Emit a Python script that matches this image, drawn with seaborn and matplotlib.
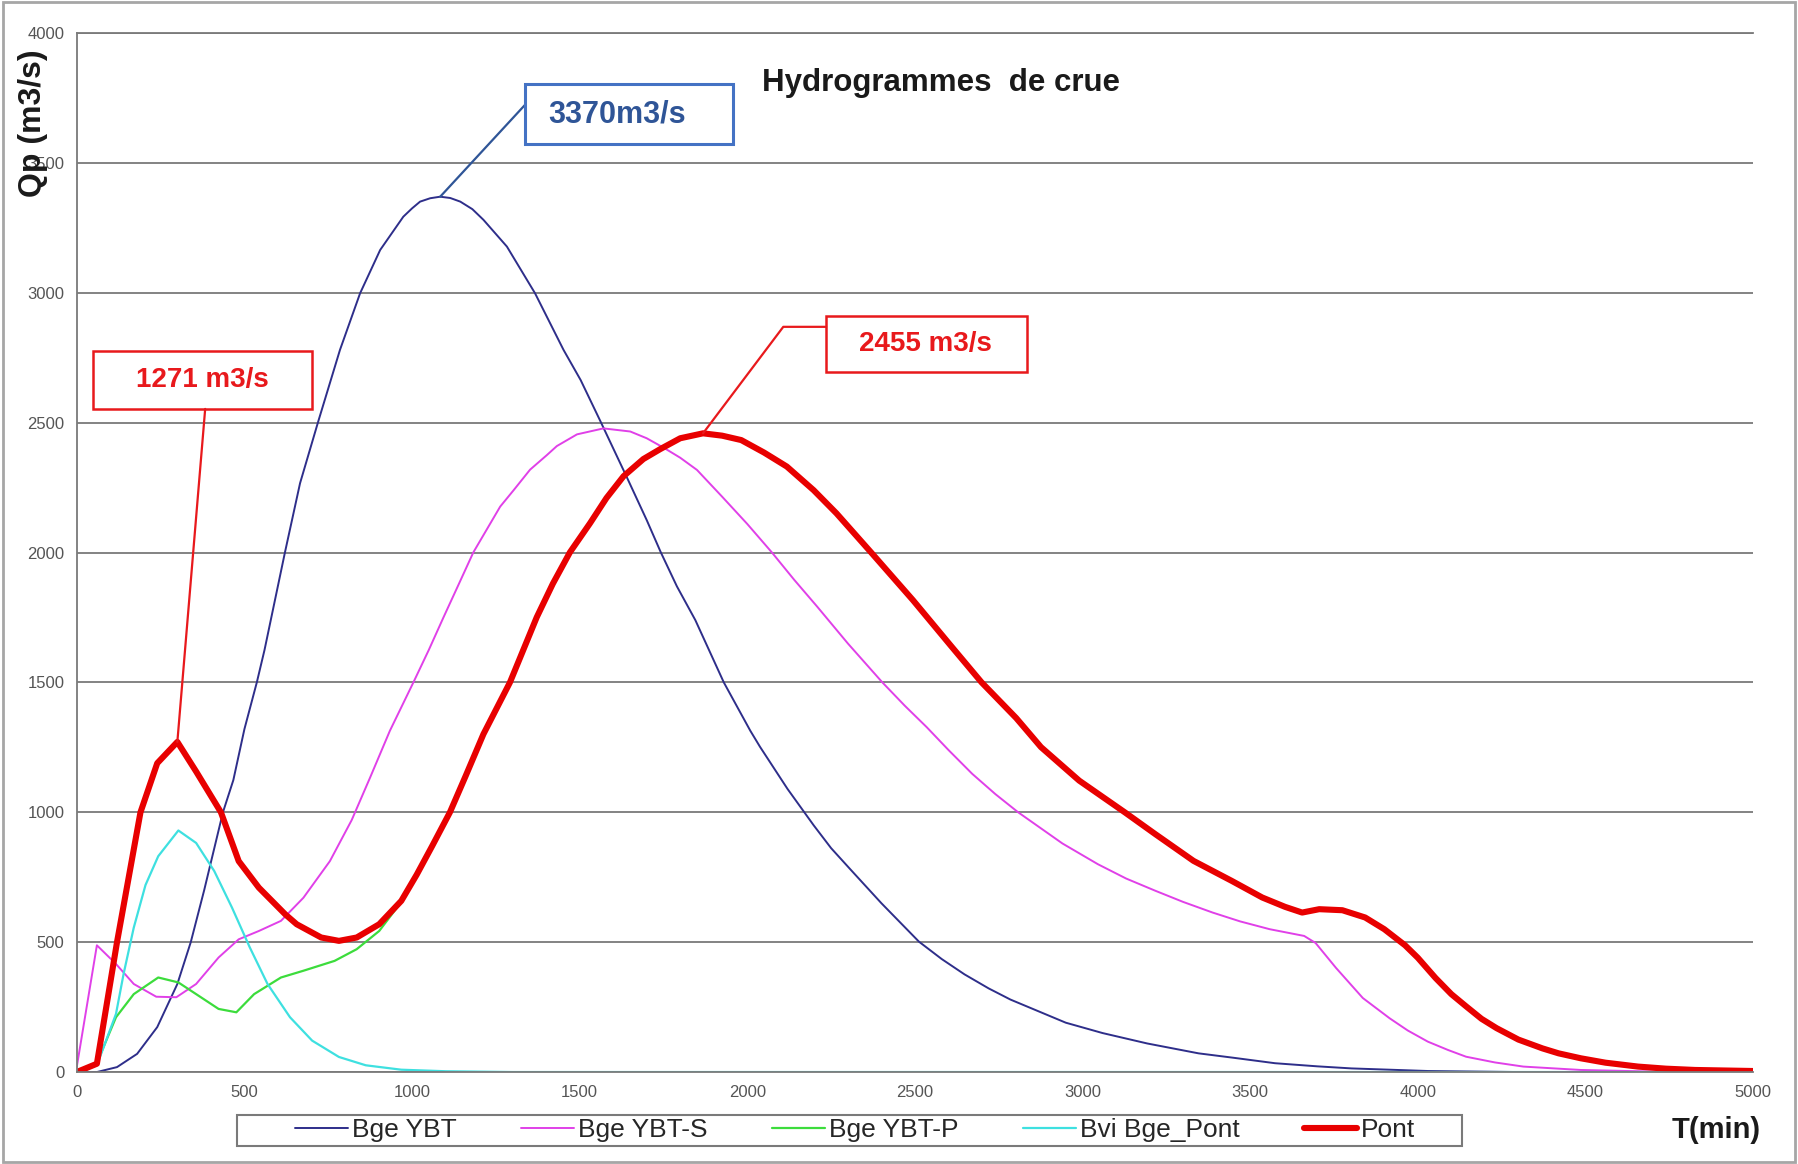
import numpy as np
import pandas as pd
import matplotlib
matplotlib.use('Agg')
import matplotlib.pyplot as plt
from matplotlib.patches import Rectangle
from matplotlib.lines import Line2D
import seaborn as sns


# hydrogrammes (T en min, Q en m3/s)
t_ybt = [0, 60, 120, 180, 240, 300, 340, 380, 436, 467, 500, 537, 560, 621, 666, 721, 785, 845, 905,
         974, 1000, 1024, 1054, 1084, 1114, 1144, 1180, 1213, 1283, 1367, 1452, 1503, 1561, 1640, 1700,
         1742, 1790, 1845, 1930, 2009, 2038, 2120, 2198, 2250, 2307, 2400, 2512, 2580, 2648, 2720, 2785,
         2950, 3060, 3193, 3346, 3450, 3574, 3700, 3802, 4030, 4300, 5000]
q_ybt = [0, 0, 19, 70, 173, 339, 500, 700, 1000, 1124, 1320, 1500, 1625, 2001, 2267, 2508, 2780, 2998, 3165,
         3293, 3325, 3351, 3364, 3370, 3365, 3351, 3322, 3281, 3178, 2998, 2780, 2664, 2508, 2292, 2125,
         2001, 1870, 1740, 1500, 1314, 1252, 1090, 950, 862, 781, 650, 502, 435, 376, 322, 279,
         190, 150, 110, 72, 55, 34, 22, 14, 4, 0, 0]

t_ybt_s = [0, 60, 117, 170, 237, 297, 356, 423, 483, 543, 609, 676, 755, 820, 875, 934, 1004, 1050,
           1094, 1140, 1183, 1263, 1303, 1352, 1402, 1432, 1492, 1571, 1651, 1700, 1754, 1800, 1850,
           1925, 2000, 2073, 2140, 2209, 2300, 2403, 2470, 2535, 2600, 2671, 2740, 2808, 2940, 3046,
           3130, 3217, 3300, 3388, 3470, 3558, 3661, 3695, 3756, 3836, 3916, 3970, 4030, 4090, 4144,
           4230, 4315, 4486, 4700, 5000]
q_ybt_s = [20, 488, 416, 339, 290, 288, 339, 441, 511, 543, 582, 671, 812, 970, 1134, 1314, 1500, 1625,
           1751, 1880, 2001, 2177, 2240, 2319, 2375, 2410, 2455, 2478, 2466, 2440, 2401, 2365, 2318,
           2215, 2110, 2001, 1895, 1791, 1650, 1500, 1410, 1328, 1240, 1148, 1070, 1000, 880, 800,
           745, 698, 655, 614, 580, 550, 524, 497, 401, 285, 207, 160, 117, 85, 59,
           37, 21, 8, 2, 0]

t_ybt_p = [0, 60, 117, 170, 243, 303, 356, 423, 476, 529, 609, 676, 769, 835, 902, 968]
q_ybt_p = [0, 35, 211, 300, 364, 345, 300, 243, 230, 300, 364, 390, 428, 473, 543, 655]

t_bvi = [0, 60, 117, 140, 170, 205, 243, 303, 356, 410, 463, 516, 569, 636, 702, 782, 862, 968, 1101,
         1300, 5000]
q_bvi = [0, 26, 224, 380, 556, 720, 831, 930, 882, 774, 633, 480, 339, 211, 121, 58, 26, 9, 3,
         0, 0]

t_pont = [0, 60, 120, 190, 240, 300, 356, 430, 483, 543, 622, 656, 729, 782, 835, 902, 968, 1014,
          1060, 1113, 1160, 1213, 1292, 1372, 1420, 1471, 1531, 1580, 1631, 1690, 1740, 1800, 1868,
          1925, 1982, 2050, 2118, 2198, 2266, 2369, 2494, 2608, 2699, 2802, 2876, 2990, 3126, 3217,
          3331, 3445, 3536, 3604, 3655, 3706, 3775, 3843, 3900, 3962, 4000, 4053, 4100, 4144, 4190,
          4235, 4300, 4372, 4420, 4486, 4560, 4657, 4740, 4827, 5000]
q_pont = [0, 32, 500, 1000, 1189, 1271, 1157, 1000, 812, 710, 607, 569, 518, 505, 518, 569, 659, 760,
          870, 1000, 1140, 1301, 1500, 1751, 1880, 2001, 2113, 2210, 2294, 2360, 2398, 2440, 2459,
          2450, 2433, 2385, 2331, 2240, 2151, 2001, 1817, 1640, 1500, 1363, 1251, 1122, 1000, 916,
          813, 736, 672, 636, 614, 627, 623, 595, 550, 488, 440, 362, 300, 253, 205,
          169, 125, 91, 72, 53, 36, 21, 13, 8, 4]

labels = ['Bge YBT', 'Bge YBT-S', 'Bge YBT-P', 'Bvi Bge_Pont', 'Pont']
colors = ['#2E2E8A', '#E040E8', '#3CDC3C', '#3EE0E0', '#E80000']
widths = [1.4, 1.4, 1.6, 1.6, 4.4]
x_ticks = list(range(0, 5001, 500))
y_ticks = list(range(0, 4001, 500))

sns.set_style('white')
plt.rcParams['font.family'] = ['Liberation Sans', 'DejaVu Sans']

fig = plt.figure(figsize=(17.98, 11.64), dpi=100)
ax = fig.add_axes([0.0427, 0.0790, 0.9323, 0.8926])

series = [(t_ybt, q_ybt), (t_ybt_s, q_ybt_s), (t_ybt_p, q_ybt_p), (t_bvi, q_bvi), (t_pont, q_pont)]
for (t, q), lab, c, lw in zip(series, labels, colors, widths):
    df = pd.DataFrame({'T': t, 'Q': q})
    sns.lineplot(data=df, x='T', y='Q', color=c, linewidth=lw, ax=ax, legend=False)

ax.set_xlim(0, 5000)
ax.set_ylim(0, 4000)
ax.set_xticks(x_ticks)
ax.set_yticks(y_ticks)
ax.set_xlabel('')
ax.set_ylabel('')
ax.grid(axis='y', color='#7a7a7a', linewidth=1.3)
ax.set_axisbelow(True)
ax.tick_params(labelsize=12, labelcolor='#555555', color='#808080', direction='out',
               length=5, width=1.0, pad=4)
for side in ['left', 'bottom', 'top']:
    ax.spines[side].set_color('#7a7a7a')
    ax.spines[side].set_linewidth(1.3)
ax.spines['right'].set_visible(False)

# annotations des pics
i_ybt = int(np.argmax(q_ybt))
i_pont1 = int(np.argmax(q_pont[:8]))
i_pont2 = int(np.argmax(q_pont))

blue = '#2F5597'
red = '#E8191C'

ax.add_patch(Rectangle((1338, 3571), 619, 234, fill=False, ec='#4472C4', lw=2.2, zorder=5))
ax.text(1406, 3688, '3370m3/s', ha='left', va='center', fontsize=22, fontweight='bold',
        color=blue, zorder=6)
ax.annotate('', xy=(t_ybt[i_ybt], q_ybt[i_ybt]), xytext=(1338, 3725),
            arrowprops=dict(arrowstyle='-', color=blue, lw=1.6, shrinkA=0, shrinkB=0))

ax.add_patch(Rectangle((49, 2553), 652, 223, fill=False, ec=red, lw=1.8, zorder=5))
ax.text(375, 2665, '1271 m3/s', ha='center', va='center', fontsize=20, fontweight='bold',
        color=red, zorder=6)
ax.annotate('', xy=(t_pont[i_pont1], q_pont[i_pont1]), xytext=(383, 2553),
            arrowprops=dict(arrowstyle='-', color=red, lw=1.6, shrinkA=0, shrinkB=0))

ax.add_patch(Rectangle((2235, 2697), 598, 212, fill=False, ec=red, lw=1.8, zorder=5))
ax.text(2532, 2803, '2455 m3/s', ha='center', va='center', fontsize=20, fontweight='bold',
        color=red, zorder=6)
ax.annotate('', xy=(t_pont[i_pont2], q_pont[i_pont2]), xytext=(2235, 2869),
            arrowprops=dict(arrowstyle='-', color=red, lw=1.6, shrinkA=0, shrinkB=0,
                            connectionstyle='angle,angleA=0,angleB=53,rad=0'))

# textes
fig.text(0.5235, 0.929, 'Hydrogrammes  de crue', ha='center', va='center', fontsize=22.5,
         fontweight='bold', color='#1a1a1a')
fig.text(0.0182, 0.894, 'Qp (m3/s)', rotation=90, ha='center', va='center', fontsize=23,
         fontweight='bold', color='#1a1a1a')
fig.text(0.9547, 0.0296, 'T(min)', ha='center', va='center', fontsize=21,
         fontweight='bold', color='#1a1a1a')

# legende
handles = [Line2D([], [], color=c, lw=lw) for c, lw in zip(colors, widths)]
fig.legend(handles, labels, loc='center', bbox_to_anchor=(0.4755, 0.0292), ncol=5,
           frameon=False, fontsize=19, handlelength=2.0, handletextpad=0.15, columnspacing=2.45)
fig.patches.append(Rectangle((0.132, 0.0158), 0.681, 0.0266, transform=fig.transFigure,
                             fill=False, ec='#7a7a7a', lw=1.5))
fig.patches.append(Rectangle((0.0015, 0.002), 0.997, 0.996, transform=fig.transFigure,
                             fill=False, ec='#a6a6a6', lw=2))

plt.savefig('out.png', dpi=100)
